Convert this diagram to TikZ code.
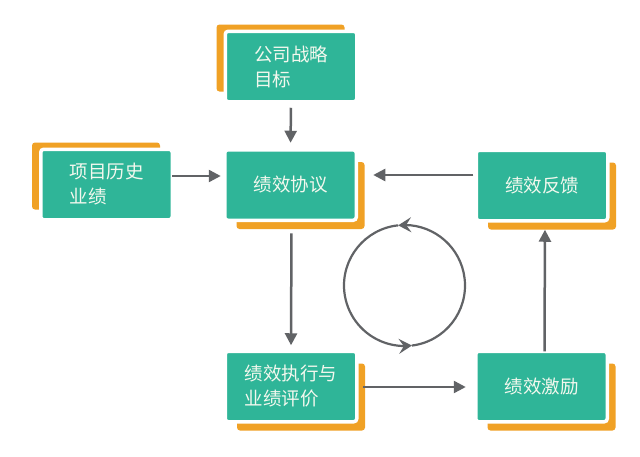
\documentclass[tikz,border=0pt]{standalone}
\usepackage{fontspec}
\setmainfont{Noto Sans CJK SC}
\usetikzlibrary{arrows.meta,bending}
\definecolor{tealbox}{HTML}{2FB598}
\definecolor{orangebar}{HTML}{F0A125}
\definecolor{greyline}{HTML}{616366}
\definecolor{boxtext}{HTML}{F3F8EE}
\begin{document}
\begin{tikzpicture}[x=1pt,y=-1pt,
  box/.style={fill=tealbox, draw=white, line width=3.5pt, rounded corners=3pt,
    minimum width=131.5pt, minimum height=70.5pt, outer sep=0pt, inner sep=0pt,
    text=boxtext, font=\fontsize{18.5}{25}\selectfont, align=left},
  shadowbox/.style={fill=orangebar, rounded corners=3pt, minimum width=128pt,
    minimum height=67pt, inner sep=0pt, outer sep=0pt},
  arr/.style={draw=greyline, line width=2.5pt, -{Triangle[length=12pt,width=12pt]}},
  carr/.style={draw=greyline, line width=2.2pt, -{Stealth[length=13pt,width=15pt,inset=5pt]}}]
\fill[white] (0,0) rectangle (640,456);
\useasboundingbox (0,0) rectangle (640,456);

% orange offset shapes
\node[shadowbox] (s1) at (280.5,58) {};
\node[shadowbox] (s2) at (96,176) {};
\node[shadowbox] (s3) at (300.5,195.5) {};
\node[shadowbox] (s4) at (552,196) {};
\node[shadowbox] (s5) at (301,397) {};
\node[shadowbox] (s6) at (551.5,397) {};

% boxes
\node[box] (b1) at (291,66.5) {公司战略\\目标};
\node[box] (b2) at (106.5,184.5) {项目历史\\业绩};
\node[box] (b3) at (290.5,185) {绩效协议};
\node[box] (b4) at (542,185.5) {绩效反馈};
\node[box] (b5) at (291,386.5) {绩效执行与\\业绩评价};
\node[box] (b6) at (541.5,386.5) {绩效激励};

% connectors
\draw[arr, shorten <=6pt, shorten >=7pt] (b1.south) -- (b3.north);
\draw[arr, shorten >=4pt] ([shift={(0,-8.5)}]b2.east) -- ([shift={(0,-9)}]b3.west);
\draw[arr, shorten <=3pt, shorten >=17pt] ([shift={(0,-10.5)}]b4.west) -- ([shift={(0,-10)}]b3.east);
\draw[arr, shorten <=13pt, shorten >=6pt] ([shift={(1,0)}]b3.south) -- (b5.north);
\draw[arr, shorten <=6pt, shorten >=10pt] ([shift={(0,0.5)}]b5.east) -- ([shift={(0,0.5)}]b6.west);
\draw[arr, shorten >=9pt] ([shift={(3,0)}]b6.north) -- ([shift={(3,0)}]b4.south);

% cycle circle
\coordinate (cc) at (404.5,285.5);
\draw[carr] ([shift={(83:60.5)}]cc) arc[start angle=83, end angle=-96, radius=60.5];
\draw[carr] ([shift={(-96:60.5)}]cc) arc[start angle=-96, end angle=-277, radius=60.5];
\end{tikzpicture}
\end{document}
